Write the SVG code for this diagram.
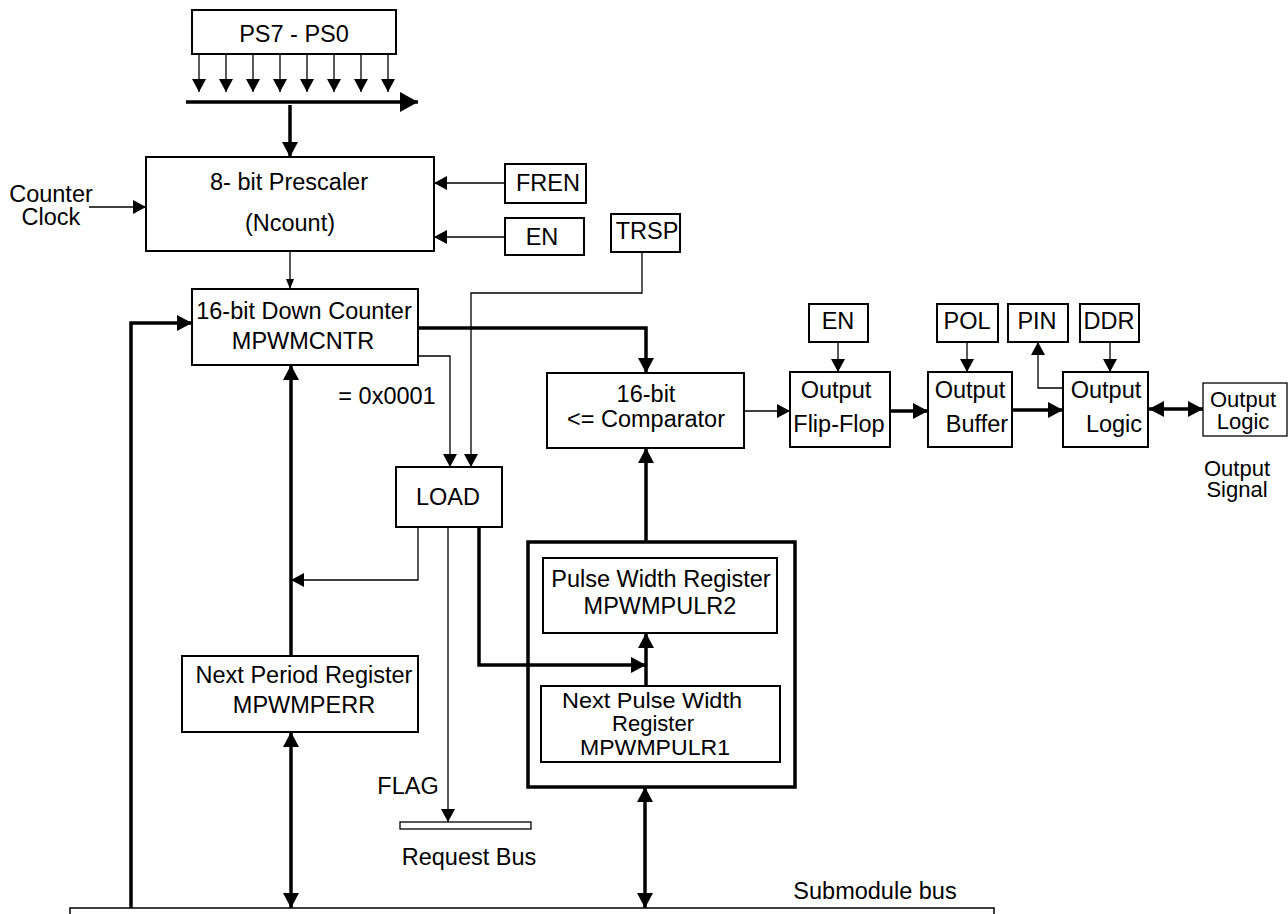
<svg xmlns="http://www.w3.org/2000/svg" width="1288" height="914" viewBox="0 0 1288 914">
<style>
.t{font-family:"Liberation Sans",Arial,Helvetica,sans-serif;font-size:23.5px;text-anchor:middle;fill:#000}
.s{font-size:22px}
.b{fill:#fff;stroke:#000;stroke-width:2}
.bt{fill:#fff;stroke:#000;stroke-width:1.3}
.bk{fill:none;stroke:#000;stroke-width:3.5}
.w{fill:none;stroke:#000;stroke-width:1.3}
.k{fill:none;stroke:#000;stroke-width:3.5}
.a{marker-end:url(#a)}
.as{marker-end:url(#as)}
.ab{marker-end:url(#ab)}
.ab2{marker-start:url(#ab);marker-end:url(#ab)}
.abl{marker-end:url(#abl)}
</style>
<defs>
<marker id="a" markerUnits="userSpaceOnUse" markerWidth="13" markerHeight="14" refX="13" refY="7" orient="auto-start-reverse" overflow="visible"><path d="M0,0 L13,7 L0,14 Z" fill="#000"/></marker>
<marker id="as" markerUnits="userSpaceOnUse" markerWidth="10" markerHeight="8" refX="10" refY="4" orient="auto-start-reverse" overflow="visible"><path d="M0,0 L10,4 L0,8 Z" fill="#000"/></marker>
<marker id="ab" markerUnits="userSpaceOnUse" markerWidth="15" markerHeight="16" refX="15" refY="8" orient="auto-start-reverse" overflow="visible"><path d="M0,0 L15,8 L0,16 Z" fill="#000"/></marker>
<marker id="abl" markerUnits="userSpaceOnUse" markerWidth="18" markerHeight="20" refX="18" refY="10" orient="auto-start-reverse" overflow="visible"><path d="M0,0 L18,10 L0,20 Z" fill="#000"/></marker>
</defs>
<rect width="1288" height="914" fill="#fff"/>

<g id="connectors">
<path class="w a" d="M199,54 V92"/>
<path class="w a" d="M226,54 V92"/>
<path class="w a" d="M253,54 V92"/>
<path class="w a" d="M280,54 V92"/>
<path class="w a" d="M307,54 V92"/>
<path class="w a" d="M334,54 V92"/>
<path class="w a" d="M361,54 V92"/>
<path class="w a" d="M388,54 V92"/>
<path class="k abl" d="M186,102 H418"/>
<path class="k ab" d="M290,105 V157"/>
<path class="w a" d="M89,207 H146"/>
<path class="w a" d="M505,183 H434"/>
<path class="w a" d="M505,237 H434"/>
<path class="w as" d="M290,251 V289"/>
<path class="w a" d="M642,252 V293 H471 V467"/>
<path class="w a" d="M418,356 H450 V467"/>
<path class="w a" d="M418,527 V580 H291"/>
<path class="w a" d="M448,527 V822"/>
<path class="k ab" d="M131,908 V323 H192"/>
<path class="k ab" d="M418,328 H646 V373"/>
<path class="k ab" d="M291,656 V365"/>
<path class="k ab2" d="M291,732 V908"/>
<path class="k ab" d="M479,527 V665 H646"/>
<path class="k ab" d="M646,542 V448"/>
<path class="k ab" d="M646,686 V633"/>
<path class="k ab2" d="M645,787 V908"/>
<path class="w a" d="M744,411 H790"/>
<path class="w a" d="M838,342 V372"/>
<path class="w a" d="M967,342 V372"/>
<path class="w a" d="M1110,342 V372"/>
<path class="w a" d="M1063,388 H1038 V342"/>
<path class="k ab" d="M890,411 H928"/>
<path class="k ab" d="M1012,410 H1063"/>
<path class="k ab2" d="M1149,409 H1203"/>
<path fill="none" stroke="#000" stroke-width="1.5" d="M70,914 V908 H994 V914"/>
</g>

<g id="ps">
<rect class="b" x="192" y="10" width="204" height="44"/>
<text class="t" x="294" y="42">PS7 - PS0</text>
</g>
<g id="prescaler">
<rect class="b" x="146" y="157" width="288" height="94"/>
<text class="t" x="289" y="190">8- bit Prescaler</text>
<text class="t" x="290" y="231">(Ncount)</text>
</g>
<g id="counter-clock">
<text class="t" x="51" y="202">Counter</text>
<text class="t" x="51" y="225">Clock</text>
</g>
<g id="fren">
<rect class="b" x="505" y="164" width="81" height="39"/>
<text class="t" x="548" y="191">FREN</text>
</g>
<g id="en1">
<rect class="b" x="505" y="218" width="79" height="37"/>
<text class="t" x="542" y="245">EN</text>
</g>
<g id="trsp">
<rect class="b" x="611" y="214" width="69" height="38"/>
<text class="t" x="647" y="239">TRSP</text>
</g>
<g id="down-counter">
<rect class="b" x="192" y="289" width="226" height="76"/>
<text class="t" x="304" y="319">16-bit Down Counter</text>
<text class="t" x="303" y="349">MPWMCNTR</text>
</g>
<g id="eq-label">
<text class="t" x="387" y="404">= 0x0001</text>
</g>
<g id="load">
<rect class="b" x="396" y="467" width="106" height="60"/>
<text class="t" x="448" y="505">LOAD</text>
</g>
<g id="comparator">
<rect class="b" x="547" y="373" width="197" height="75"/>
<text class="t" x="646" y="402">16-bit</text>
<text class="t" x="646" y="427">&lt;= Comparator</text>
</g>
<g id="en2">
<rect class="b" x="809" y="304" width="59" height="38"/>
<text class="t" x="838" y="329">EN</text>
</g>
<g id="flipflop">
<rect class="b" x="790" y="372" width="100" height="75"/>
<text class="t" x="836" y="398">Output</text>
<text class="t" x="839" y="432">Flip-Flop</text>
</g>
<g id="pol">
<rect class="b" x="937" y="304" width="61" height="38"/>
<text class="t" x="967" y="329">POL</text>
</g>
<g id="buffer">
<rect class="b" x="928" y="372" width="84" height="75"/>
<text class="t" x="970" y="398">Output</text>
<text class="t" x="977" y="432">Buffer</text>
</g>
<g id="pin">
<rect class="b" x="1008" y="304" width="60" height="38"/>
<text class="t" x="1037" y="329">PIN</text>
</g>
<g id="ddr">
<rect class="b" x="1080" y="304" width="59" height="38"/>
<text class="t" x="1109" y="329">DDR</text>
</g>
<g id="output-logic">
<rect class="b" x="1063" y="372" width="85" height="75"/>
<text class="t" x="1106" y="398">Output</text>
<text class="t" x="1114" y="432">Logic</text>
</g>
<g id="output-logic-pin">
<rect class="bt" x="1203" y="383" width="84" height="53"/>
<text class="t s" x="1243" y="407">Output</text>
<text class="t s" x="1243" y="429">Logic</text>
</g>
<g id="output-signal">
<text class="t s" x="1237" y="476">Output</text>
<text class="t s" x="1237" y="497">Signal</text>
</g>
<g id="pulse-block">
<rect class="bk" x="528" y="542" width="267" height="245"/>
</g>
<g id="pwr2">
<rect class="b" x="543" y="558" width="234" height="75"/>
<text class="t" x="661" y="587">Pulse Width Register</text>
<text class="t" x="660" y="614">MPWMPULR2</text>
</g>
<g id="npw">
<rect class="b" x="541" y="686" width="239" height="76"/>
<text class="t s" x="652" y="708" textLength="180" lengthAdjust="spacingAndGlyphs">Next Pulse Width</text>
<text class="t s" x="653" y="731">Register</text>
<text class="t s" x="655" y="755" textLength="150" lengthAdjust="spacingAndGlyphs">MPWMPULR1</text>
</g>
<g id="npr">
<rect class="b" x="182" y="656" width="236" height="76"/>
<text class="t" x="304" y="683">Next Period Register</text>
<text class="t" x="304" y="713">MPWMPERR</text>
</g>
<g id="flag">
<text class="t" x="408" y="794">FLAG</text>
</g>
<g id="request-bus">
<rect class="bt" x="400" y="822" width="131" height="7"/>
<text class="t" x="469" y="865">Request Bus</text>
</g>
<g id="submodule-bus">
<text class="t" x="875" y="899">Submodule bus</text>
</g>
</svg>
